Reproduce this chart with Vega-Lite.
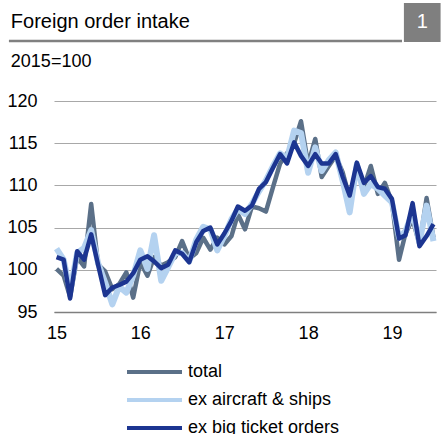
{
  "$schema": "https://vega.github.io/schema/vega-lite/v6.json",
  "padding": {"left": 6, "top": 0, "right": 0, "bottom": 0},
  "spacing": 21,
  "config": {"font": "Liberation Sans", "view": {"stroke": null}},
  "vconcat": [
    {
      "width": 382,
      "height": 70,
      "data": {"values": [{"title": "Foreign order intake", "num": "1", "sub": "2015=100"}]},
      "layer": [
        {
          "mark": {"type": "rule", "color": "#808080", "strokeWidth": 2.3},
          "encoding": {
            "x": {"datum": -11.8, "type": "quantitative", "scale": {"domain": [0, 100]}, "axis": null},
            "x2": {"datum": 91.1},
            "y": {"datum": 41.4, "type": "quantitative", "scale": {"domain": [0, 100]}, "axis": null}
          }
        },
        {
          "mark": {"type": "rect", "color": "#7f7f7f"},
          "encoding": {
            "x": {"datum": 91.6, "type": "quantitative", "axis": null},
            "x2": {"datum": 101.2},
            "y": {"datum": 40, "type": "quantitative", "axis": null},
            "y2": {"datum": 95.7}
          }
        },
        {
          "mark": {"type": "text", "align": "left", "baseline": "alphabetic", "fontSize": 20, "color": "#000000"},
          "encoding": {
            "x": {"datum": -11.3, "type": "quantitative", "axis": null},
            "y": {"datum": 60, "type": "quantitative", "axis": null},
            "text": {"field": "title"}
          }
        },
        {
          "mark": {"type": "text", "align": "center", "baseline": "alphabetic", "fontSize": 20, "color": "#ffffff"},
          "encoding": {
            "x": {"datum": 96.4, "type": "quantitative", "axis": null},
            "y": {"datum": 60, "type": "quantitative", "axis": null},
            "text": {"field": "num"}
          }
        },
        {
          "mark": {"type": "text", "align": "left", "baseline": "alphabetic", "fontSize": 18, "color": "#000000"},
          "encoding": {
            "x": {"datum": -11.3, "type": "quantitative", "axis": null},
            "y": {"datum": 5, "type": "quantitative", "axis": null},
            "text": {"field": "sub"}
          }
        }
      ]
    },
    {
      "width": 382,
      "height": 211,
      "data": {"values": [
        {"date": "2015-01-01", "total": 100.1, "ex aircraft & ships": 102.5, "ex big ticket orders": 101.5},
        {"date": "2015-02-01", "total": 99.3, "ex aircraft & ships": 101.2, "ex big ticket orders": 101.2},
        {"date": "2015-03-01", "total": 96.8, "ex aircraft & ships": 97.5, "ex big ticket orders": 96.6},
        {"date": "2015-04-01", "total": 101.5, "ex aircraft & ships": 102.0, "ex big ticket orders": 102.2},
        {"date": "2015-05-01", "total": 100.4, "ex aircraft & ships": 102.6, "ex big ticket orders": 101.2},
        {"date": "2015-06-01", "total": 107.8, "ex aircraft & ships": 104.7, "ex big ticket orders": 104.2},
        {"date": "2015-07-01", "total": 100.6, "ex aircraft & ships": 100.8, "ex big ticket orders": 100.6},
        {"date": "2015-08-01", "total": 99.8, "ex aircraft & ships": 98.5, "ex big ticket orders": 97.0},
        {"date": "2015-09-01", "total": 97.7, "ex aircraft & ships": 95.9, "ex big ticket orders": 97.9},
        {"date": "2015-10-01", "total": 98.3, "ex aircraft & ships": 98.0, "ex big ticket orders": 98.2},
        {"date": "2015-11-01", "total": 99.7, "ex aircraft & ships": 97.3, "ex big ticket orders": 98.6},
        {"date": "2015-12-01", "total": 96.7, "ex aircraft & ships": 99.3, "ex big ticket orders": 99.6},
        {"date": "2016-01-01", "total": 100.9, "ex aircraft & ships": 102.3, "ex big ticket orders": 101.2},
        {"date": "2016-02-01", "total": 99.3, "ex aircraft & ships": 100.1, "ex big ticket orders": 101.6},
        {"date": "2016-03-01", "total": 101.5, "ex aircraft & ships": 104.1, "ex big ticket orders": 101.0},
        {"date": "2016-04-01", "total": 100.5, "ex aircraft & ships": 98.7, "ex big ticket orders": 100.2},
        {"date": "2016-05-01", "total": 100.9, "ex aircraft & ships": 100.3, "ex big ticket orders": 100.6},
        {"date": "2016-06-01", "total": 101.5, "ex aircraft & ships": 102.0, "ex big ticket orders": 102.3},
        {"date": "2016-07-01", "total": 103.4, "ex aircraft & ships": 102.0, "ex big ticket orders": 101.9},
        {"date": "2016-08-01", "total": 101.3, "ex aircraft & ships": 101.0, "ex big ticket orders": 100.9},
        {"date": "2016-09-01", "total": 102.0, "ex aircraft & ships": 103.6, "ex big ticket orders": 103.3},
        {"date": "2016-10-01", "total": 103.8, "ex aircraft & ships": 105.1, "ex big ticket orders": 104.6},
        {"date": "2016-11-01", "total": 102.4, "ex aircraft & ships": 104.8, "ex big ticket orders": 105.0},
        {"date": "2016-12-01", "total": 103.8, "ex aircraft & ships": 102.3, "ex big ticket orders": 103.0},
        {"date": "2017-01-01", "total": 103.0, "ex aircraft & ships": 104.0, "ex big ticket orders": 104.3},
        {"date": "2017-02-01", "total": 104.0, "ex aircraft & ships": 106.0, "ex big ticket orders": 105.8},
        {"date": "2017-03-01", "total": 106.6, "ex aircraft & ships": 107.2, "ex big ticket orders": 107.5},
        {"date": "2017-04-01", "total": 104.8, "ex aircraft & ships": 106.6, "ex big ticket orders": 107.0},
        {"date": "2017-05-01", "total": 107.5, "ex aircraft & ships": 107.8, "ex big ticket orders": 107.6},
        {"date": "2017-06-01", "total": 107.3, "ex aircraft & ships": 109.3, "ex big ticket orders": 109.6},
        {"date": "2017-07-01", "total": 106.9, "ex aircraft & ships": 110.6, "ex big ticket orders": 110.4},
        {"date": "2017-08-01", "total": 109.8, "ex aircraft & ships": 112.3, "ex big ticket orders": 112.1},
        {"date": "2017-09-01", "total": 112.6, "ex aircraft & ships": 113.8, "ex big ticket orders": 113.7},
        {"date": "2017-10-01", "total": 113.8, "ex aircraft & ships": 113.2, "ex big ticket orders": 112.6},
        {"date": "2017-11-01", "total": 115.0, "ex aircraft & ships": 116.5, "ex big ticket orders": 115.1},
        {"date": "2017-12-01", "total": 117.6, "ex aircraft & ships": 116.2, "ex big ticket orders": 113.5},
        {"date": "2018-01-01", "total": 112.5, "ex aircraft & ships": 111.5, "ex big ticket orders": 112.3},
        {"date": "2018-02-01", "total": 115.5, "ex aircraft & ships": 114.5, "ex big ticket orders": 113.7},
        {"date": "2018-03-01", "total": 111.0, "ex aircraft & ships": 111.7, "ex big ticket orders": 112.6},
        {"date": "2018-04-01", "total": 112.3, "ex aircraft & ships": 113.0, "ex big ticket orders": 112.6},
        {"date": "2018-05-01", "total": 113.5, "ex aircraft & ships": 113.9, "ex big ticket orders": 113.7},
        {"date": "2018-06-01", "total": 111.5, "ex aircraft & ships": 110.5, "ex big ticket orders": 111.0},
        {"date": "2018-07-01", "total": 108.5, "ex aircraft & ships": 106.8, "ex big ticket orders": 108.8},
        {"date": "2018-08-01", "total": 112.0, "ex aircraft & ships": 112.5, "ex big ticket orders": 112.7},
        {"date": "2018-09-01", "total": 109.8, "ex aircraft & ships": 109.0, "ex big ticket orders": 110.3},
        {"date": "2018-10-01", "total": 112.3, "ex aircraft & ships": 110.2, "ex big ticket orders": 111.1},
        {"date": "2018-11-01", "total": 109.0, "ex aircraft & ships": 109.6, "ex big ticket orders": 109.8},
        {"date": "2018-12-01", "total": 110.3, "ex aircraft & ships": 108.8, "ex big ticket orders": 109.6},
        {"date": "2019-01-01", "total": 108.0, "ex aircraft & ships": 108.0, "ex big ticket orders": 108.4},
        {"date": "2019-02-01", "total": 101.2, "ex aircraft & ships": 103.8, "ex big ticket orders": 103.7},
        {"date": "2019-03-01", "total": 104.3, "ex aircraft & ships": 104.6, "ex big ticket orders": 104.1},
        {"date": "2019-04-01", "total": 106.0, "ex aircraft & ships": 106.8, "ex big ticket orders": 107.9},
        {"date": "2019-05-01", "total": 103.0, "ex aircraft & ships": 103.2, "ex big ticket orders": 102.8},
        {"date": "2019-06-01", "total": 108.5, "ex aircraft & ships": 107.6, "ex big ticket orders": 104.0},
        {"date": "2019-07-01", "total": 103.8, "ex aircraft & ships": 103.4, "ex big ticket orders": 105.4}
      ]},
      "transform": [
        {"fold": ["total", "ex aircraft & ships", "ex big ticket orders"], "as": ["series", "value"]}
      ],
      "encoding": {
        "x": {
          "field": "date", "type": "temporal",
          "scale": {"type": "utc", "domain": [{"year": 2014, "month": 12, "date": 21, "utc": true}, {"year": 2019, "month": 7, "date": 12, "utc": true}]},
          "axis": {
            "title": null, "format": "%y",
            "values": [{"year": 2015, "month": 1, "date": 1, "utc": true}, {"year": 2016, "month": 1, "date": 1, "utc": true}, {"year": 2017, "month": 1, "date": 1, "utc": true}, {"year": 2018, "month": 1, "date": 1, "utc": true}, {"year": 2019, "month": 1, "date": 1, "utc": true}],
            "domain": true, "domainColor": "#7f7f7f", "domainWidth": 1.5,
            "ticks": false, "grid": false,
            "labelFontSize": 18, "labelColor": "#000000", "labelPadding": 12, "labelFlush": false
          }
        },
        "y": {
          "field": "value", "type": "quantitative",
          "scale": {"domain": [95, 120], "nice": false, "zero": false},
          "axis": {
            "title": null, "values": [95, 100, 105, 110, 115, 120],
            "domain": false, "ticks": false, "grid": true, "gridColor": "#a8a8a8", "gridWidth": 1.2,
            "labelFontSize": 18, "labelColor": "#000000", "labelPadding": 17
          }
        },
        "color": {
          "field": "series", "type": "nominal",
          "scale": {"domain": ["total", "ex aircraft & ships", "ex big ticket orders"], "range": ["#5b7088", "#b4d2f0", "#1c3591"]},
          "legend": {
            "title": null, "orient": "none", "legendX": 71, "legendY": 358, "direction": "vertical",
            "symbolType": "stroke", "symbolSize": 3025, "symbolStrokeWidth": 4,
            "clipHeight": 28, "rowPadding": 0, "labelFontSize": 18, "labelColor": "#000000",
            "labelOffset": 4, "labelLimit": 300, "padding": 0
          }
        }
      },
      "layer": [
        {"transform": [{"filter": "datum.series === 'total'"}], "mark": {"type": "line", "strokeWidth": 4.5, "strokeJoin": "round"}},
        {"transform": [{"filter": "datum.series === 'ex aircraft & ships'"}], "mark": {"type": "line", "strokeWidth": 6, "strokeJoin": "round"}},
        {"transform": [{"filter": "datum.series === 'ex big ticket orders'"}], "mark": {"type": "line", "strokeWidth": 4.5, "strokeJoin": "round"}}
      ]
    }
  ]
}
